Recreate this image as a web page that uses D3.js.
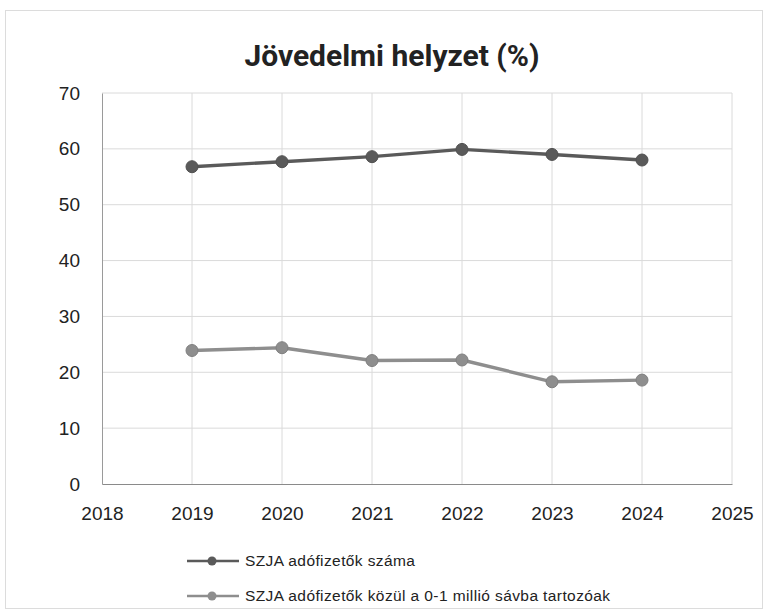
<!DOCTYPE html>
<html>
<head>
<meta charset="utf-8">
<script src="https://cdn.jsdelivr.net/npm/d3@7"></script>
<style>
html,body{margin:0;padding:0;background:#fff;}
svg{display:block;}
</style>
</head>
<body>
<svg id="chart" width="769" height="614"></svg>
<script>
const years = [2019, 2020, 2021, 2022, 2023, 2024];
const seriesNames = ["SZJA adófizetők száma", "SZJA adófizetők közül a 0-1 millió sávba tartozóak"];
const taxpayers = [56.8, 57.7, 58.6, 59.9, 59.0, 58.0];
const lowBand = [23.9, 24.4, 22.1, 22.2, 18.3, 18.6];
const yTicks = [0, 10, 20, 30, 40, 50, 60, 70];
const xTicks = [2018, 2019, 2020, 2021, 2022, 2023, 2024, 2025];
const title = "Jövedelmi helyzet (%)";

const svg = d3.select("#chart");
const colors = ["#5a5a5a", "#8e8e8e"];
const margin = {left: 102, right: 37, top: 93, bottom: 130};
const W = 769, H = 614;

svg.append("rect").attr("x", 5.5).attr("y", 10.5).attr("width", 757).attr("height", 598)
  .attr("fill", "#fff").attr("stroke", "#dcdcdc").attr("stroke-width", 1);

const x = d3.scaleLinear().domain([2018, 2025]).range([margin.left, W - margin.right]);
const y = d3.scaleLinear().domain([0, 70]).range([H - margin.bottom, margin.top]);

// gridlines
svg.append("g").selectAll("line.h").data(yTicks.filter(d => d > 0)).join("line")
  .attr("x1", x(2018)).attr("x2", x(2025)).attr("y1", d => y(d)).attr("y2", d => y(d))
  .attr("stroke", "#dadada").attr("stroke-width", 1);
svg.append("g").selectAll("line.v").data(xTicks.filter(d => d > 2018)).join("line")
  .attr("x1", d => x(d)).attr("x2", d => x(d)).attr("y1", y(0)).attr("y2", y(70))
  .attr("stroke", "#dadada").attr("stroke-width", 1);

// axes
const yAxis = d3.axisLeft(y).tickValues(yTicks).tickSize(0).tickPadding(22);
const gy = svg.append("g").attr("transform", `translate(${x(2018)},0)`).call(yAxis);
gy.select(".domain").attr("stroke", "#9a9a9a");
gy.selectAll("text").attr("font-family", "Liberation Sans, Arial, sans-serif").attr("font-size", 19).attr("fill", "#222");

const xAxis = d3.axisBottom(x).tickValues(xTicks).tickFormat(d3.format("d")).tickSize(0).tickPadding(23);
const gx = svg.append("g").attr("transform", `translate(0,${y(0)})`).call(xAxis);
gx.select(".domain").attr("stroke", "#8a8a8a").attr("stroke-width", 1.2);
gx.selectAll("text").attr("font-family", "Liberation Sans, Arial, sans-serif").attr("font-size", 19).attr("fill", "#222");

// title
svg.append("text").attr("x", 392).attr("y", 66).attr("text-anchor", "middle")
  .attr("font-family", "Roboto, sans-serif").attr("font-weight", "bold").attr("font-size", 30)
  .attr("fill", "#222").text(title);

// series
const allSeries = [taxpayers, lowBand];
const line = d3.line().x((d, i) => x(years[i])).y(d => y(d));
allSeries.forEach((vals, si) => {
  svg.append("path").datum(vals).attr("d", line).attr("fill", "none")
    .attr("stroke", colors[si]).attr("stroke-width", 3.4).attr("stroke-linejoin", "round");
  svg.append("g").selectAll("circle").data(vals).join("circle")
    .attr("cx", (d, i) => x(years[i])).attr("cy", d => y(d)).attr("r", 6)
    .attr("fill", colors[si]).attr("stroke", d3.color(colors[si]).darker(0.3)).attr("stroke-width", 1);
});

// legend
const legY = [561, 596];
seriesNames.forEach((name, si) => {
  const g = svg.append("g");
  g.append("line").attr("x1", 187).attr("x2", 239).attr("y1", legY[si]).attr("y2", legY[si])
    .attr("stroke", colors[si]).attr("stroke-width", 2.5);
  g.append("circle").attr("cx", 212).attr("cy", legY[si]).attr("r", 4.5).attr("fill", colors[si]);
  g.append("text").attr("x", 245).attr("y", legY[si] + 5)
    .attr("font-family", "Liberation Sans, Arial, sans-serif").attr("font-size", 15.5)
    .attr("letter-spacing", 0.4)
    .attr("fill", "#222").text(name);
});
</script>
</body>
</html>
